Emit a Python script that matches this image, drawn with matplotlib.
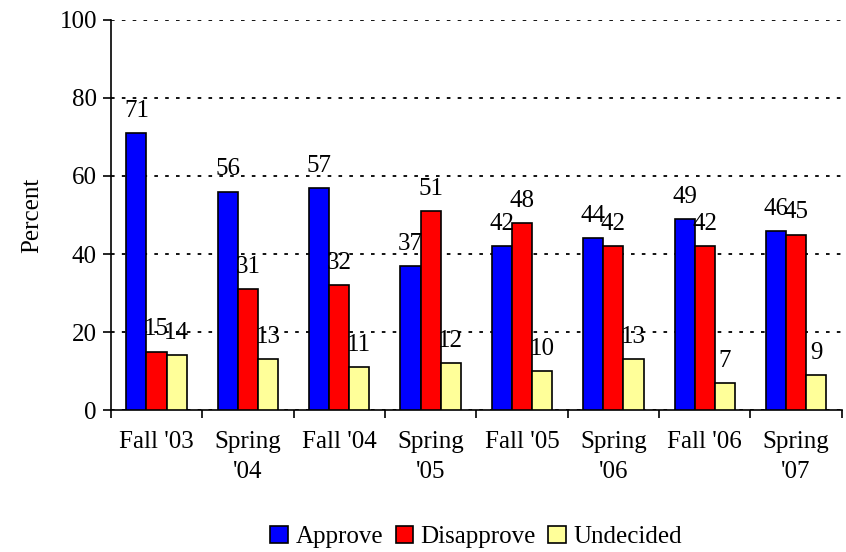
import matplotlib
matplotlib.use('Agg')
import matplotlib.pyplot as plt
import numpy as np

plt.rcParams['font.family'] = ['Liberation Serif', 'DejaVu Serif']

terms = ["Fall '03", "Spring\n'04", "Fall '04", "Spring\n'05",
         "Fall '05", "Spring\n'06", "Fall '06", "Spring\n'07"]
approve = [71, 56, 57, 37, 42, 44, 49, 46]
disapprove = [15, 31, 32, 51, 48, 42, 42, 45]
undecided = [14, 13, 11, 12, 10, 13, 7, 9]

series = [('Approve', approve, '#0000ff'),
          ('Disapprove', disapprove, '#ff0000'),
          ('Undecided', undecided, '#ffff99')]

fig = plt.figure(figsize=(8.46, 5.52), dpi=100)
ax = fig.add_axes([0.131, 0.257, 0.864, 0.707])

x = np.arange(len(terms))
w = 0.22
for i, (name, vals, col) in enumerate(series):
    pos = x + (i - 1) * w
    ax.bar(pos, vals, width=w, color=col, edgecolor='black', linewidth=1.2,
           label=name, zorder=3)
    for px, v in zip(pos, vals):
        ax.annotate(str(v), (px, v), xytext=(0, 8), textcoords='offset points',
                    ha='center', va='bottom', fontsize=18, zorder=4)

ax.set_ylim(0, 100)
ax.set_xlim(-0.5, len(terms) - 0.5)
ax.set_yticks(range(0, 101, 20))
ax.yaxis.grid(True, linestyle=(0, (2, 4)), color='black', linewidth=1.3, zorder=0)
ax.set_xticks(np.arange(len(terms) + 1) - 0.5)
ax.set_xticklabels([])
ax.set_xticks(x, minor=True)
ax.set_xticklabels(terms, minor=True, fontsize=18, linespacing=1.5)
ax.tick_params(axis='x', which='minor', length=0, pad=15)
ax.tick_params(axis='x', which='major', length=6, width=1.2, direction='out')
ax.tick_params(axis='y', length=6, width=1.2, labelsize=18, pad=4)
ax.spines['top'].set_visible(False)
ax.spines['right'].set_visible(False)
ax.spines['left'].set_linewidth(1.2)
ax.spines['bottom'].set_linewidth(1.2)
ax.set_ylabel('Percent', fontsize=18, labelpad=12)

ax.legend(loc='center', bbox_to_anchor=(0.5, -0.325), ncol=3, frameon=False,
          fontsize=18, handlelength=0.7, handleheight=0.7, handletextpad=0.3,
          columnspacing=0.5)

fig.savefig('out.png', dpi=100)
